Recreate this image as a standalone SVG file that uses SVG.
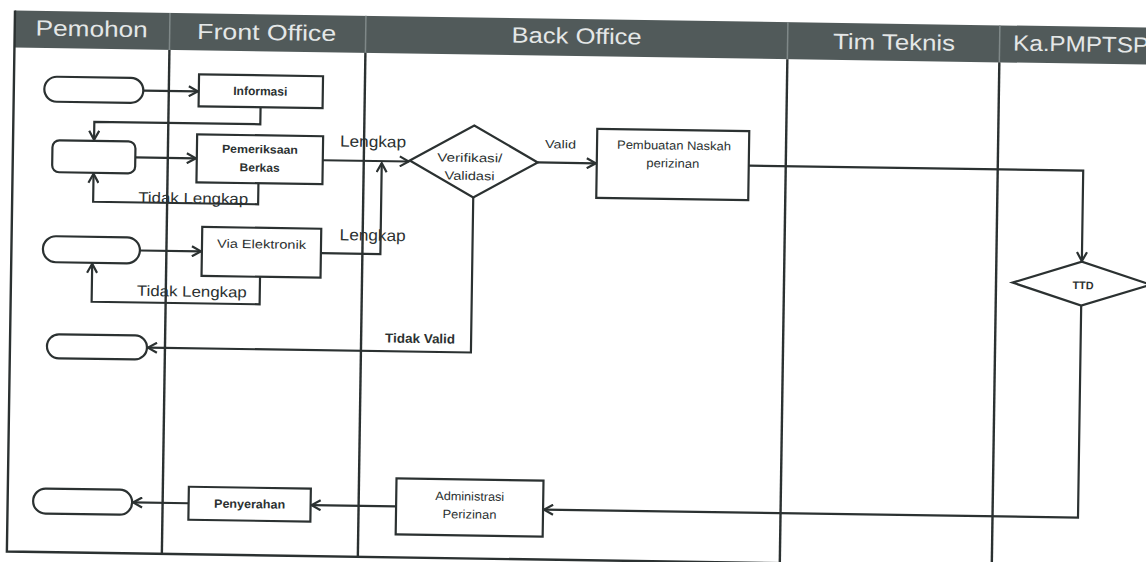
<svg xmlns="http://www.w3.org/2000/svg" width="1146" height="562" viewBox="0 0 1146 562">
<defs>
<style>
.lane{stroke:#2b3131;stroke-width:2.4;fill:none}
.hdr{fill:#515a5a}
.hsep{stroke:#7f8888;stroke-width:1.5}
.ht{font-family:"Liberation Sans",Arial,sans-serif;font-size:22px;fill:#e4e7e7;text-anchor:middle}
.box{fill:#fff;stroke:#2b3131;stroke-width:2.2}
.c{fill:none;stroke:#2b3131;stroke-width:2.2;marker-end:url(#ah)}
.t{font-family:"Liberation Sans",Arial,sans-serif;fill:#2b3131;text-anchor:middle}
.s12{font-size:12px}
.b{font-weight:bold}
.lbl{font-size:16px}
.lbl2{font-size:15px}
</style>
<marker id="ah" viewBox="0 0 12 12" refX="10.5" refY="6" markerWidth="12" markerHeight="12" markerUnits="userSpaceOnUse" orient="auto">
<path d="M1.5,1 L10.5,6 L1.5,11" fill="none" stroke="#2b3131" stroke-width="2.2"/>
</marker>
</defs>
<rect width="1146" height="562" fill="#ffffff"/>
<g transform="rotate(0.86 573 281)">
<g id="swimlanes">
<rect class="hdr" x="11" y="19" width="1160" height="37"/>
<line class="hsep" x1="166" y1="19" x2="166" y2="56"/>
<line class="hsep" x1="362" y1="19" x2="362" y2="56"/>
<line class="hsep" x1="784" y1="19" x2="784" y2="56"/>
<line class="hsep" x1="996" y1="19" x2="996" y2="56"/>
<path class="lane" d="M11,19 V560 H1170"/>
<line class="lane" x1="166" y1="56" x2="166" y2="560"/>
<line class="lane" x1="362" y1="56" x2="362" y2="560"/>
<line class="lane" x1="784" y1="56" x2="784" y2="562"/>
<line class="lane" x1="996" y1="56" x2="996" y2="562"/>
<text class="ht" x="88" y="43.7" textLength="112" lengthAdjust="spacingAndGlyphs">Pemohon</text>
<text class="ht" x="263" y="44.6" textLength="139" lengthAdjust="spacingAndGlyphs">Front Office</text>
<text class="ht" x="573" y="43.5" textLength="130" lengthAdjust="spacingAndGlyphs">Back Office</text>
<text class="ht" x="890.5" y="45" textLength="122" lengthAdjust="spacingAndGlyphs">Tim Teknis</text>
<text class="ht" x="1009.5" y="44" style="text-anchor:start" textLength="136" lengthAdjust="spacingAndGlyphs">Ka.PMPTSP</text>
</g>
<g id="connectors">
<path class="c" d="M140.5,97 H195"/>
<path class="c" d="M258,112 V129 H92 V147"/>
<path class="c" d="M133.5,164 H194"/>
<path class="c" d="M257,188 V209 H92 V181"/>
<path class="c" d="M321,164 H407"/>
<path class="c" d="M320.5,257 H380 V166"/>
<path class="c" d="M139.5,257 H200.5"/>
<path class="c" d="M260,281.5 V309 H92 V271"/>
<path class="c" d="M536,163 H594"/>
<path class="c" d="M472,199 V354 H149"/>
<path class="c" d="M747,163 H1081.5 V253.5"/>
<path class="c" d="M1081.5,298 V510 H547.5"/>
<path class="c" d="M399.5,509 H315"/>
<path class="c" d="M192,509 H136.5"/>
<text class="t lbl" x="371" y="150" textLength="66" lengthAdjust="spacingAndGlyphs">Lengkap</text>
<text class="t lbl" x="372" y="243.7" textLength="66" lengthAdjust="spacingAndGlyphs">Lengkap</text>
<text class="t lbl2" x="192" y="209" textLength="110" lengthAdjust="spacingAndGlyphs">Tidak Lengkap</text>
<text class="t lbl2" x="192" y="302.4" textLength="110" lengthAdjust="spacingAndGlyphs">Tidak Lengkap</text>
<text class="t" x="558.5" y="148.5" font-size="11.5" textLength="31" lengthAdjust="spacingAndGlyphs">Valid</text>
<text class="t b" x="421" y="345.3" font-size="13" textLength="70" lengthAdjust="spacingAndGlyphs">Tidak Valid</text>
</g>
<g id="start1"><rect class="box" x="41.5" y="84.5" width="99" height="25" rx="12.5"/></g>
<g id="informasi"><rect class="box" x="196" y="80" width="124" height="32"/>
<text class="t s12 b" x="257.5" y="100" textLength="54" lengthAdjust="spacingAndGlyphs">Informasi</text></g>
<g id="start2"><rect class="box" x="50.5" y="148" width="83" height="32" rx="7"/></g>
<g id="pemeriksaan"><rect class="box" x="195" y="140" width="126" height="48"/>
<text class="t b" font-size="11.5" x="258" y="158" textLength="76" lengthAdjust="spacingAndGlyphs">Pemeriksaan</text>
<text class="t b" font-size="11.5" x="258" y="176.4" textLength="40" lengthAdjust="spacingAndGlyphs">Berkas</text></g>
<g id="verifikasi"><path class="box" d="M408,163 L472,127 L536,163 L472,199 Z"/>
<text class="t s12" x="468" y="163.5" textLength="65" lengthAdjust="spacingAndGlyphs">Verifikasi/</text>
<text class="t s12" x="468" y="181.5" textLength="50" lengthAdjust="spacingAndGlyphs">Validasi</text></g>
<g id="pembuatan"><rect class="box" x="595" y="128.5" width="152" height="69"/>
<text class="t s12" x="672" y="148" textLength="114" lengthAdjust="spacingAndGlyphs">Pembuatan Naskah</text>
<text class="t s12" x="671" y="166" textLength="53" lengthAdjust="spacingAndGlyphs">perizinan</text></g>
<g id="ttd"><path class="box" d="M1012.5,276 L1081.5,254 L1150.5,276 L1081.5,298 Z"/>
<text class="t b" font-size="11" x="1083" y="281.5" textLength="21" lengthAdjust="spacingAndGlyphs">TTD</text></g>
<g id="start3"><rect class="box" x="42.5" y="244" width="97" height="26" rx="13"/></g>
<g id="via"><rect class="box" x="201.5" y="232.5" width="119" height="49"/>
<text class="t s12" x="261" y="253" textLength="89" lengthAdjust="spacingAndGlyphs">Via Elektronik</text></g>
<g id="end-tidakvalid"><rect class="box" x="48" y="342" width="100" height="24" rx="12"/></g>
<g id="administrasi"><rect class="box" x="399.5" y="481" width="147" height="56"/>
<text class="t s12" x="473" y="502" textLength="69" lengthAdjust="spacingAndGlyphs">Administrasi</text>
<text class="t s12" x="473" y="520" textLength="54" lengthAdjust="spacingAndGlyphs">Perizinan</text></g>
<g id="penyerahan"><rect class="box" x="192" y="492.5" width="122" height="33"/>
<text class="t s12 b" x="253" y="513" textLength="71" lengthAdjust="spacingAndGlyphs">Penyerahan</text></g>
<g id="end"><rect class="box" x="36.5" y="496.5" width="99" height="25" rx="12.5"/></g>
</g>
</svg>
